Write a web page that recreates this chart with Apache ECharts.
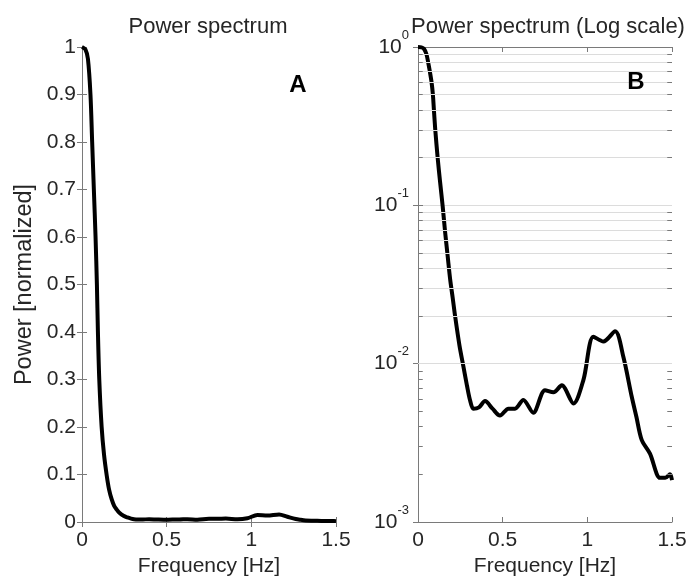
<!DOCTYPE html>
<html>
<head>
<meta charset="utf-8">
<title>Power spectrum</title>
<script src="https://cdn.jsdelivr.net/npm/echarts/dist/echarts.min.js"></script>
<style>
  html, body { margin: 0; padding: 0; background: #fff; }
  #chart { width: 689px; height: 576px; }
</style>
</head>
<body>
<div id="chart"></div>
<script>
// frequency samples [Hz] and normalized power
const freqHz = [
  0, 0.02, 0.035, 0.05, 0.06, 0.07, 0.08, 0.088, 0.094, 0.102,
  0.116, 0.13, 0.146, 0.16, 0.175, 0.19, 0.205, 0.219, 0.245, 0.268,
  0.29, 0.307, 0.327, 0.36, 0.396, 0.44, 0.484, 0.534, 0.573, 0.622,
  0.681, 0.75, 0.8, 0.849, 0.918, 0.977, 1.036, 1.095, 1.164, 1.213,
  1.262, 1.29, 1.321, 1.37, 1.429, 1.46, 1.488, 1.5
]
const powerNorm = [
  1.0, 0.995, 0.975, 0.9, 0.8, 0.7, 0.6, 0.5, 0.4, 0.3,
  0.2, 0.142, 0.098, 0.068, 0.048, 0.034, 0.026, 0.02, 0.013, 0.0096,
  0.0072, 0.0059, 0.0052, 0.0053, 0.0058, 0.0052, 0.0047, 0.0052, 0.0052, 0.0059,
  0.0049, 0.0068, 0.0066, 0.0073, 0.0056, 0.0079, 0.0148, 0.0138, 0.016, 0.011,
  0.0062, 0.0046, 0.0033, 0.0027, 0.0019, 0.0019, 0.002, 0.00184
]
// minor grid lines / minor ticks of the log panel
const logMinorLines = [
  0.002, 0.003, 0.004, 0.005, 0.006, 0.007, 0.008, 0.009,
  0.02, 0.03, 0.04, 0.05, 0.06, 0.07, 0.08, 0.09,
  0.2, 0.3, 0.4, 0.5, 0.6, 0.7, 0.8, 0.9
]
const panelTitles = ['Power spectrum', 'Power spectrum (Log scale)']
const panelTags = ['A', 'B']

const FONT = 'Liberation Sans, Arial, sans-serif'
const TXT = '#262626'
const AX = '#7a7a7a'
const TICK_HZ = 0.028   // minor tick length in x units (about 5px)

const chart = echarts.init(document.getElementById('chart'))
const points = freqHz.map((f, i) => [f, powerNorm[i]])

function xAx(grid, pos, labels, name) {
  return {
    type: 'value', gridIndex: grid, position: pos,
    min: 0, max: 1.5, interval: 0.5,
    name: name, nameLocation: 'middle', nameGap: 34,
    nameTextStyle: { fontFamily: FONT, fontSize: 21, color: TXT },
    axisLine: { show: true, lineStyle: { color: AX, width: 1 } },
    axisTick: { show: true, inside: true, length: 5, lineStyle: { color: AX } },
    axisLabel: { show: labels, margin: 8, fontFamily: FONT, fontSize: 21, color: TXT },
    splitLine: { show: false }
  }
}

function yLin(pos, labels, name) {
  return {
    type: 'value', gridIndex: 0, position: pos,
    min: 0, max: 1, interval: 0.1,
    name: name, nameLocation: 'middle', nameGap: 45,
    nameTextStyle: { fontFamily: FONT, fontSize: 23.5, color: TXT },
    axisLine: { show: true, lineStyle: { color: AX, width: 1 } },
    axisTick: { show: true, inside: true, length: 5, lineStyle: { color: AX } },
    axisLabel: { show: labels, margin: 6, fontFamily: FONT, fontSize: 21, color: TXT },
    splitLine: { show: false }
  }
}

function yLog(pos, labels) {
  return {
    type: 'log', logBase: 10, gridIndex: 1, position: pos,
    min: 0.001, max: 1, splitNumber: 3,
    axisLine: { show: true, lineStyle: { color: AX, width: 1 } },
    axisTick: { show: true, inside: true, length: 5, lineStyle: { color: AX } },
    axisLabel: {
      show: labels, margin: 9,
      formatter: v => '{b|10}{s|' + Math.round(Math.log10(v)) + '}',
      rich: {
        b: { fontFamily: FONT, fontSize: 21, color: TXT, padding: [8, 0, 8, 0] },
        s: { fontFamily: FONT, fontSize: 13, color: TXT, verticalAlign: 'top' }
      }
    },
    splitLine: { show: labels, lineStyle: { color: '#dcdcdc', width: 1 } }
  }
}

// short segments on both sides of the log panel for the minor ticks
const minorTicks = []
logMinorLines.forEach(v => {
  minorTicks.push([{ coord: [0, v] }, { coord: [TICK_HZ, v] }])
  minorTicks.push([{ coord: [1.5 - TICK_HZ, v] }, { coord: [1.5, v] }])
})

const option = {
  animation: false,
  backgroundColor: '#fff',
  title: [
    { text: panelTitles[0], left: 203, top: 11, textAlign: 'center',
      textStyle: { fontFamily: FONT, fontSize: 22, fontWeight: 'normal', color: TXT } },
    { text: panelTitles[1], left: 543, top: 11, textAlign: 'center',
      textStyle: { fontFamily: FONT, fontSize: 22, fontWeight: 'normal', color: TXT } },
    { text: panelTags[0], left: 293, top: 68, textAlign: 'center',
      textStyle: { fontFamily: FONT, fontSize: 24, fontWeight: 'bold', color: '#000' } },
    { text: panelTags[1], left: 631, top: 65, textAlign: 'center',
      textStyle: { fontFamily: FONT, fontSize: 24, fontWeight: 'bold', color: '#000' } }
  ],
  grid: [
    { left: 82, right: 353, top: 47, bottom: 54, outerBoundsMode: 'none' },
    { left: 418, right: 17, top: 47, bottom: 54, outerBoundsMode: 'none' }
  ],
  xAxis: [
    xAx(0, 'bottom', true, 'Frequency [Hz]'),
    xAx(0, 'top', false, ''),
    xAx(1, 'bottom', true, 'Frequency [Hz]'),
    xAx(1, 'top', false, '')
  ],
  yAxis: [
    yLin('left', true, 'Power [normalized]'),
    yLin('right', false, ''),
    yLog('left', true),
    yLog('right', false)
  ],
  series: [
    {
      name: 'minor grid', type: 'line', xAxisIndex: 2, yAxisIndex: 2,
      data: [], z: 1,
      markLine: {
        silent: true, symbol: 'none', label: { show: false },
        lineStyle: { color: '#dcdcdc', width: 1, type: 'solid' },
        data: logMinorLines.map(v => ({ yAxis: v }))
      }
    },
    {
      name: 'minor ticks', type: 'line', xAxisIndex: 2, yAxisIndex: 2,
      data: [], z: 2,
      markLine: {
        silent: true, symbol: 'none', label: { show: false },
        lineStyle: { color: AX, width: 1, type: 'solid' },
        data: minorTicks
      }
    },
    {
      name: 'linear', type: 'line', xAxisIndex: 0, yAxisIndex: 0,
      data: points, showSymbol: false, smooth: 0.3, z: 3,
      lineStyle: { color: '#000', width: 4 }
    },
    {
      name: 'log', type: 'line', xAxisIndex: 2, yAxisIndex: 2,
      data: points, showSymbol: false, smooth: 0.3, z: 3,
      lineStyle: { color: '#000', width: 4 }
    }
  ]
}

chart.setOption(option)
</script>
</body>
</html>
